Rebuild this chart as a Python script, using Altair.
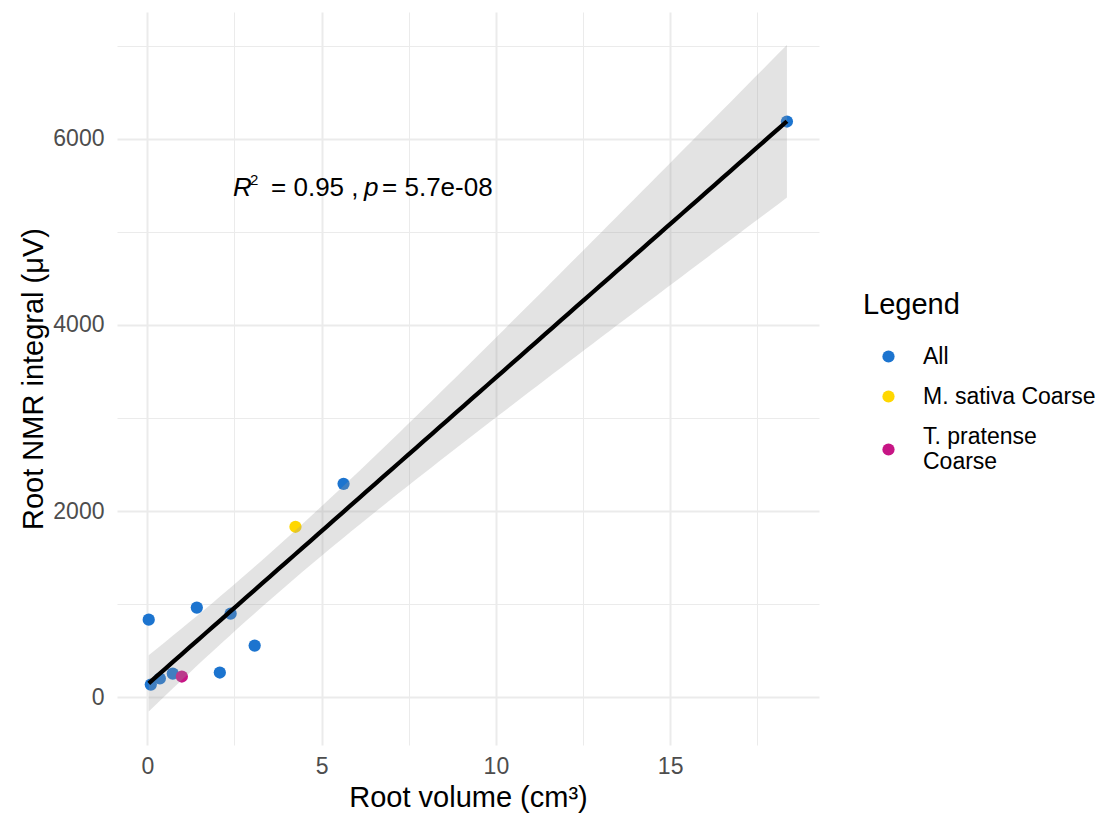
import altair as alt
import numpy as np
import pandas as pd

# ---- data ----
root_volume = [0.10, 0.36, 0.73, 0.99, 0.04, 1.42, 2.39, 3.08, 2.08, 4.25, 5.63, 18.35]
root_nmr = [139, 204, 257, 225, 836, 965, 900, 557, 268, 1833, 2294, 6184]
group = ["All", "All", "All", "T. pratense Coarse", "All", "All", "All", "All", "All",
         "M. sativa Coarse", "All", "All"]
legend_order = ["All", "M. sativa Coarse", "T. pratense Coarse"]
legend_colors = ["#1C74CF", "#FFD700", "#C71585"]
annot_r2 = "0.95"
annot_p = "5.7e-08"

pts = pd.DataFrame({"x": root_volume, "y": root_nmr, "g": group})

# ---- linear fit with 95% confidence band (like geom_smooth(method="lm")) ----
xa = np.array(root_volume, dtype=float)
ya = np.array(root_nmr, dtype=float)
n = len(xa)
slope, intercept = np.polyfit(xa, ya, 1)
resid = ya - (slope * xa + intercept)
s = np.sqrt(np.sum(resid ** 2) / (n - 2))
sxx = np.sum((xa - xa.mean()) ** 2)
t_crit = 2.228  # t(0.975, df=10)
xs = np.linspace(xa.min(), xa.max(), 80)
fit = slope * xs + intercept
se = s * np.sqrt(1.0 / n + (xs - xa.mean()) ** 2 / sxx)
band = pd.DataFrame({"x": xs, "fit": fit, "lo": fit - t_crit * se, "hi": fit + t_crit * se})

xdom = [-0.87, 19.27]
ydom = [-510, 7360]

FONT = "Liberation Sans"

xaxis = alt.Axis(
    values=[0, 2.5, 5, 7.5, 10, 12.5, 15, 17.5],
    labelExpr="datum.value % 5 === 0 ? datum.label : ''",
    title="Root volume (cm³)",
    grid=True, ticks=False, domain=False,
    gridColor="#EBEBEB",
    gridWidth={"condition": {"test": "datum.value % 5 !== 0", "value": 1}, "value": 2},
    labelFontSize=23, labelColor="#4D4D4D", labelPadding=10, labelFont=FONT,
    titleFontSize=29, titleColor="#000000", titleFont=FONT, titleFontWeight="normal",
    titlePadding=5,
)
yaxis = alt.Axis(
    values=[0, 1000, 2000, 3000, 4000, 5000, 6000, 7000],
    format="d",
    labelExpr="datum.value % 2000 === 0 ? datum.label : ''",
    title="Root NMR integral (μV)",
    grid=True, ticks=False, domain=False,
    gridColor="#EBEBEB",
    gridWidth={"condition": {"test": "datum.value % 2000 !== 0", "value": 1}, "value": 2},
    labelFontSize=23, labelColor="#4D4D4D", labelPadding=13, labelFont=FONT,
    titleFontSize=29, titleColor="#000000", titleFont=FONT, titleFontWeight="normal",
    titlePadding=4,
)

xs_scale = alt.Scale(domain=xdom, nice=False, zero=False)
ys_scale = alt.Scale(domain=ydom, nice=False, zero=False)

points = alt.Chart(pts).mark_circle(size=150, opacity=1).encode(
    x=alt.X("x:Q", scale=xs_scale, axis=xaxis),
    y=alt.Y("y:Q", scale=ys_scale, axis=yaxis),
    color=alt.Color(
        "g:N",
        scale=alt.Scale(domain=legend_order, range=legend_colors),
        legend=alt.Legend(
            title="Legend",
            orient="none", legendX=746, legendY=279,
            titleFontSize=29, titleFont=FONT, titleFontWeight="normal", titleColor="#000000",
            titlePadding=25,
            labelFontSize=23, labelFont=FONT, labelColor="#000000",
            labelExpr="datum.label === 'T. pratense Coarse' ? ['T. pratense', 'Coarse'] : datum.label",
            labelBaseline={"expr": "datum.label === 'T. pratense Coarse' ? 'line-bottom' : 'middle'"},
            labelLimit=300,
            symbolType="circle", symbolSize=150, symbolStrokeWidth=0,
            symbolOffset=14, labelOffset=23,
            rowPadding=16, padding=0,
        ),
    ),
)

area = alt.Chart(band).mark_area(color="#999999", opacity=0.28).encode(
    x="x:Q", y="lo:Q", y2="hi:Q"
)
line = alt.Chart(band).mark_line(color="#000000", strokeWidth=4.3).encode(
    x="x:Q", y="fit:Q"
)

one = pd.DataFrame({"k": [0]})
ax, ay = 2.46, 5384
def seg(txt, dx, dy=0, size=26, italic=False):
    return alt.Chart(one).mark_text(
        align="left", baseline="alphabetic", dx=dx, dy=dy, fontSize=size,
        font=FONT, fontStyle="italic" if italic else "normal", color="#000000",
    ).encode(x=alt.datum(ax), y=alt.datum(ay), text=alt.value(txt))

annot = (
    seg("R", 0, italic=True)
    + seg("2", 17, dy=-11, size=15)
    + seg("= " + annot_r2 + " ,", 38)
    + seg("p", 131, italic=True)
    + seg("= " + annot_p, 149)
)

chart = alt.layer(points, area, line, annot).properties(
    width=702, height=733,
    autosize=alt.AutoSizeParams(type="none"),
    padding={"left": 109, "top": 4, "right": 280, "bottom": 77},
    background="#FFFFFF",
).configure_view(stroke=None)

chart.save("out.html", embed_options={"renderer": "svg", "actions": False})
